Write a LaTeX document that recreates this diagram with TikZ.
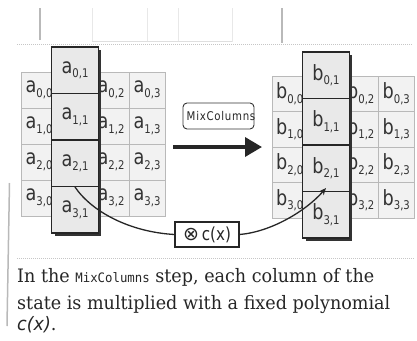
\documentclass[tikz,border=0pt]{standalone}
\usepackage{fontspec}
\setmainfont[FakeStretch=0.95]{DejaVu Serif}
\setsansfont{DejaVu Sans}
\setmonofont[FakeStretch=0.95]{DejaVu Sans Mono}
\newfontfamily\cellfont[FakeStretch=0.84]{DejaVu Sans}
\newfontfamily\mixfont[LetterSpace=6,FakeStretch=0.85]{DejaVu Sans}
\newfontfamily\capit[FakeStretch=0.95]{DejaVu Sans Oblique}
\usetikzlibrary{arrows.meta}
\newcommand\celllab[3]{#1\raisebox{-4.5pt}{\fontsize{12}{12}\selectfont #2,#3}}
\begin{document}
\begin{tikzpicture}[x=1pt,y=-1pt,
  cell/.style={draw=gray!55, fill=gray!10, minimum width=36pt, minimum height=36pt,
    inner sep=0pt, text=black!80, font=\cellfont\fontsize{21}{21}\selectfont},
  bcell/.style={cell, minimum width=35.5pt, minimum height=35.5pt},
  colbox/.style={draw=black!85, line width=1.1pt, fill=gray!17, minimum width=46.5pt,
    minimum height=46.5pt, inner sep=0pt, text=black!80, font=\cellfont\fontsize{21}{21}\selectfont},
  shadow/.style={fill=black!80},
  curve/.style={draw=black!85, line width=1.3pt},
  faint/.style={draw=gray!18, line width=1pt},
  frameline/.style={draw=gray!45, line width=1pt, densely dotted},
  captxt/.style={anchor=base west, inner sep=0pt, text=black!85, font=\fontsize{18.5}{18.5}\selectfont}
]
\useasboundingbox (0,0) rectangle (417,340);
% page remnants at top
\draw[faint] (92,8) -- (92,42);
\draw[faint] (147,8) -- (147,42);
\draw[faint] (178,8) -- (178,42);
\draw[faint] (232,8) -- (232,42);
\draw[draw=gray!25, line width=1pt] (92,41) -- (232,41);
\draw[draw=gray!55, line width=1.6pt] (40,8) -- (40,40);
\draw[draw=gray!55, line width=1.6pt] (282,8) -- (282,43);
% frame
\draw[frameline] (17,44) -- (412,44);
\draw[frameline] (17,258) -- (415,258);
\draw[draw=gray!55, line width=1.5pt] (9.5,183) -- (7,326);

% grid A
\foreach \r in {0,...,3}{
  \foreach \c in {0,2,3}{
    \node[cell] (a\r\c) at ({21+36*\c+18},{72+36*\r+18}) {\celllab{a}{\r}{\c}};
  }
}
\fill[shadow] (54.75,50) rectangle (101.25,236);
\foreach \r in {0,...,3}{
  \node[colbox] (a\r1) at (75,{47+46.5*\r+23.25}) {\celllab{a}{\r}{1}};
}
% grid B
\foreach \r in {0,...,3}{
  \foreach \c in {0,2,3}{
    \node[bcell] (b\r\c) at ({272+35.5*\c+17.75},{76+35.5*\r+17.75}) {\celllab{b}{\r}{\c}};
  }
}
\fill[shadow] (305.75,55) rectangle (352.25,241);
\foreach \r in {0,...,3}{
  \node[colbox] (b\r1) at (326,{52+46.5*\r+23.25}) {\celllab{b}{\r}{1}};
}

% MixColumns label and arrow
\node[draw=black!80, line width=0.9pt, rounded corners=4pt, minimum width=71pt,
  minimum height=26pt, inner sep=0pt, text=black!85] (mix) at (218.5,116) {};
\node[inner sep=0pt, text=black!85, font=\mixfont\fontsize{12}{12}\selectfont] (mixt) at (221,116) {MixColumns};
\coordinate (arS) at (173,147);
\coordinate (arE) at (262,147);
\draw[draw=black!85, line width=3.5pt, -{Triangle[length=17pt,width=19pt]}] (arS) -- (arE);

% c(x) box and curves
\node[draw=black!85, line width=1.1pt, fill=white, minimum width=64pt, minimum height=25pt,
  inner sep=0pt, text=black!85, font=\cellfont\fontsize{18}{18}\selectfont] (cx) at (207,234.5) {{\sffamily\fontsize{19}{19}\selectfont ⊗}\,c(x)};
\draw[curve] (a21.south) .. controls (92,212) and (130,232) .. (cx.west);
\draw[curve, -{Stealth[length=7pt,width=6pt]}] (cx.east) .. controls (270,232) and (305,212) .. ([yshift=4pt]b21.south);

% caption
\node[captxt] (cap1) at (17,282) {In the {\ttfamily\fontsize{13}{13}\selectfont MixColumns} step, each column of the};
\node[captxt] (cap2) at (17,309) {state is multiplied with a fixed polynomial};
\node[captxt] (cap3) at (17,330) {{\capit c(x)}.};
\end{tikzpicture}
\end{document}
